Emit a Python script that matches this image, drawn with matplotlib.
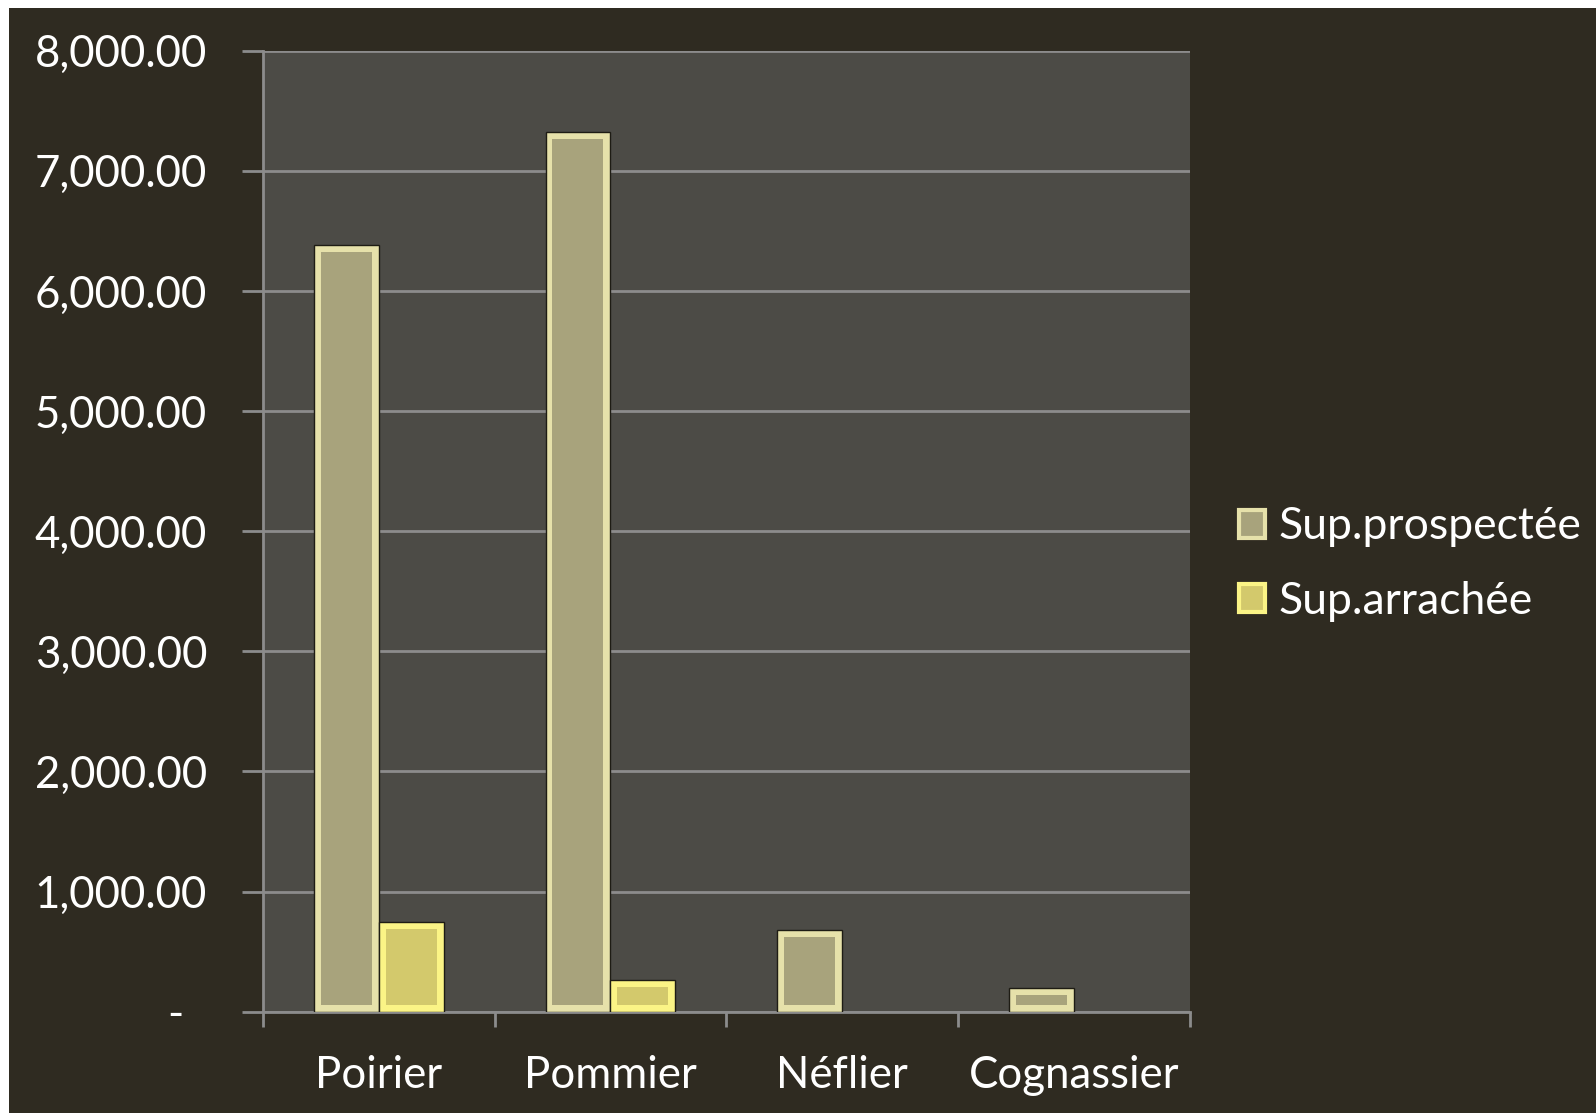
import numpy as np
import matplotlib.pyplot as plt
from matplotlib.patches import Rectangle
from matplotlib.ticker import FuncFormatter

plt.rcParams['font.family'] = ['Lato', 'DejaVu Sans']

categories = ['Poirier', 'Pommier', 'Néflier', 'Cognassier']
sup_prospectee = [6380, 7325, 680, 200]
sup_arrachee = [745, 265, 0, 0]
series_names = ['Sup.prospectée', 'Sup.arrachée']

bg = '#2f2b21'
plot_bg = '#4c4b46'
grid_col = '#8c8c8c'
face = ['#a8a37c', '#d3c96c']
bevel = ['#e6e1aa', '#fbf486']
text_col = 'white'

fig = plt.figure(figsize=(15.96, 11.13), dpi=100, facecolor='white')
# dark slide background, a thin white strip shows on the left and top
fig.patches.append(Rectangle((9 / 1596, 0), 1, 1 - 8 / 1113,
                             transform=fig.transFigure, facecolor=bg,
                             edgecolor='none', zorder=-10))

ax = fig.add_axes([262.7 / 1596, 1 - 1011.7 / 1113,
                   (1190 - 262.7) / 1596, (1011.7 - 50.7) / 1113])
ax.set_facecolor(plot_bg)

x = np.arange(len(categories))
w = 0.28
# bevel inset, about 7 px each way
dx = 0.03
dy = 58
for i, vals in enumerate([sup_prospectee, sup_arrachee]):
    vals = np.array(vals, dtype=float)
    keep = vals > 0
    pos = (x + (i - 0.5) * w)[keep]
    v = vals[keep]
    ax.bar(pos, v, w, color=bevel[i], edgecolor='#1e1c14', linewidth=1,
           zorder=3)
    ax.bar(pos, np.maximum(v - 2 * dy, 0), w - 2 * dx, bottom=dy,
           color=face[i], edgecolor='none', zorder=4)

ax.set_xlim(-0.5, len(categories) - 0.5)
ax.set_ylim(0, 8000)
ax.set_yticks(np.arange(0, 8001, 1000))
ax.yaxis.set_major_formatter(FuncFormatter(
    lambda v, p: '-  ' if v == 0 else f'{v:,.2f}'))
ax.grid(axis='y', color=grid_col, linewidth=2, zorder=1)
ax.set_axisbelow(True)

ax.set_xticks(np.arange(-0.5, len(categories)))
ax.set_xticklabels([])
ax.set_xticks(x, minor=True)
ax.set_xticklabels(categories, minor=True)

ax.tick_params(axis='y', length=15, width=2, color=grid_col, pad=25,
               labelsize=31.5, labelcolor=text_col)
ax.tick_params(axis='x', which='major', length=11, width=2, color=grid_col)
ax.tick_params(axis='x', which='minor', length=0, pad=31, labelsize=31.5,
               labelcolor=text_col)

for s in ['top', 'right']:
    ax.spines[s].set_visible(False)
for s in ['left', 'bottom']:
    ax.spines[s].set_color(grid_col)
    ax.spines[s].set_linewidth(2)

handles = [Rectangle((0, 0), 1, 1, facecolor=face[i], edgecolor=bevel[i],
                     linewidth=3) for i in range(2)]
leg = fig.legend(handles, series_names, loc='center left',
                 bbox_to_anchor=(1238.7 / 1596, 1 - 564 / 1113),
                 frameon=False, fontsize=32, handlelength=0.6,
                 handleheight=0.6, handletextpad=0.3, labelspacing=0.75,
                 borderpad=0, borderaxespad=0)
for t in leg.get_texts():
    t.set_color(text_col)

fig.savefig('out.png', dpi=100, facecolor=fig.get_facecolor())
